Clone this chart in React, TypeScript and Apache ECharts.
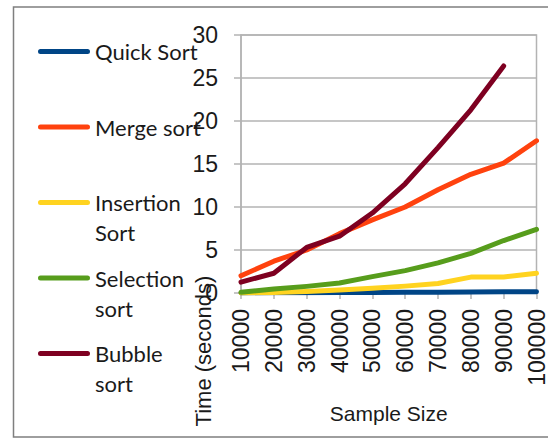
import React, { useEffect, useRef } from "react";
import * as echarts from "echarts";

const categories = ["10000", "20000", "30000", "40000", "50000", "60000", "70000", "80000", "90000", "100000"];
const quickSort = [0.01, 0.02, 0.03, 0.05, 0.07, 0.09, 0.1, 0.12, 0.14, 0.15];
const mergeSort = [2.0, 3.7, 5.0, 6.9, 8.5, 10.0, 12.0, 13.8, 15.1, 17.7];
const insertionSort = [0.0, 0.05, 0.18, 0.35, 0.55, 0.8, 1.1, 1.85, 1.85, 2.3];
const selectionSort = [0.1, 0.46, 0.77, 1.16, 1.9, 2.6, 3.5, 4.6, 6.1, 7.4];
const bubbleSort = [1.27, 2.3, 5.3, 6.6, 9.3, 12.7, 16.9, 21.3, 26.4, null];

const seriesNames = ["Quick Sort", "Merge sort", "Insertion Sort", "Selection sort", "Bubble sort"];
const legendLabels = ["Quick Sort\n ", "Merge sort\n ", "Insertion\nSort", "Selection\nsort", "Bubble\nsort"];
const colors = ["#004586", "#ff420e", "#ffd320", "#579d1c", "#7e0021"];
const yTicks = { min: 0, max: 30, interval: 5 };

const ICON =
  "path://M2.5,12.5H49.5A2.5,2.5 0 0 1 49.5,17.5H2.5A2.5,2.5 0 0 1 2.5,12.5Z M0,0H0.01V0.01H0Z M52,60H51.99V59.99H52Z";

export default function App() {
  const ref = useRef<HTMLDivElement>(null);
  useEffect(() => {
    if (!ref.current) return;
    const chart = echarts.init(ref.current, undefined, { renderer: "svg" });
    const data = [quickSort, mergeSort, insertionSort, selectionSort, bubbleSort];
    const axisFont = "Liberation Sans";
    chart.setOption({
      animation: false,
      color: colors,
      grid: {
        left: 241,
        top: 35,
        right: 6,
        bottom: 145,
        show: true,
        borderColor: "#b3b3b3",
        borderWidth: 1.5,
      },
      legend: {
        orient: "vertical",
        left: 38,
        top: 36.5,
        padding: 0,
        itemWidth: 52,
        itemHeight: 60,
        itemGap: 15.5,
        icon: ICON,
        data: seriesNames,
        formatter: (name: string) => legendLabels[seriesNames.indexOf(name)],
        textStyle: {
          fontFamily: "Lato",
          fontSize: 22,
          lineHeight: 30,
          color: "#1a1a1a",
        },
        selectedMode: false,
      },
      xAxis: {
        type: "category",
        data: categories,
        boundaryGap: false,
        name: "Sample Size",
        nameLocation: "middle",
        nameGap: 110,
        nameTextStyle: { fontFamily: axisFont, fontSize: 21, color: "#1a1a1a" },
        axisLine: { lineStyle: { color: "#b3b3b3", width: 1.5 } },
        axisTick: { show: true, length: 6, inside: false, lineStyle: { color: "#b3b3b3", width: 1.5 } },
        axisLabel: {
          rotate: 90,
          margin: 16,
          fontFamily: axisFont,
          fontSize: 23,
          color: "#1a1a1a",
          interval: 0,
        },
        splitLine: { show: false },
      },
      yAxis: {
        type: "value",
        min: yTicks.min,
        max: yTicks.max,
        interval: yTicks.interval,
        axisLine: { show: true, lineStyle: { color: "#b3b3b3", width: 1.5 } },
        axisTick: { show: true, length: 7, lineStyle: { color: "#b3b3b3", width: 1.5 } },
        axisLabel: {
          margin: 23,
          fontFamily: axisFont,
          fontSize: 23,
          color: "#1a1a1a",
        },
        splitLine: { show: true, lineStyle: { color: "#b3b3b3", width: 1.5 } },
      },
      graphic: [
        {
          type: "rect",
          shape: { x: 13.5, y: 7, width: 600, height: 430 },
          style: { fill: "none", stroke: "#7f7f7f", lineWidth: 1.5 },
          silent: true,
        },
        {
          type: "text",
          x: 203,
          y: 351,
          rotation: Math.PI / 2,
          style: {
            text: "Time (seconds)",
            fontFamily: axisFont,
            fontSize: 22,
            fill: "#1a1a1a",
            align: "center",
            verticalAlign: "middle",
          },
          z: 10,
        },
      ],
      series: seriesNames.map((n, i) => ({
        name: n,
        type: "line",
        data: data[i],
        symbol: "none",
        connectNulls: false,
        lineStyle: { width: 5, color: colors[i], cap: "round", join: "round" },
        itemStyle: { color: colors[i] },
      })),
    });
    return () => chart.dispose();
  }, []);
  return (
    <div
      ref={ref}
      style={{ position: "fixed", left: 0, top: 0, width: 548, height: 438, background: "#fff" }}
    />
  );
}
